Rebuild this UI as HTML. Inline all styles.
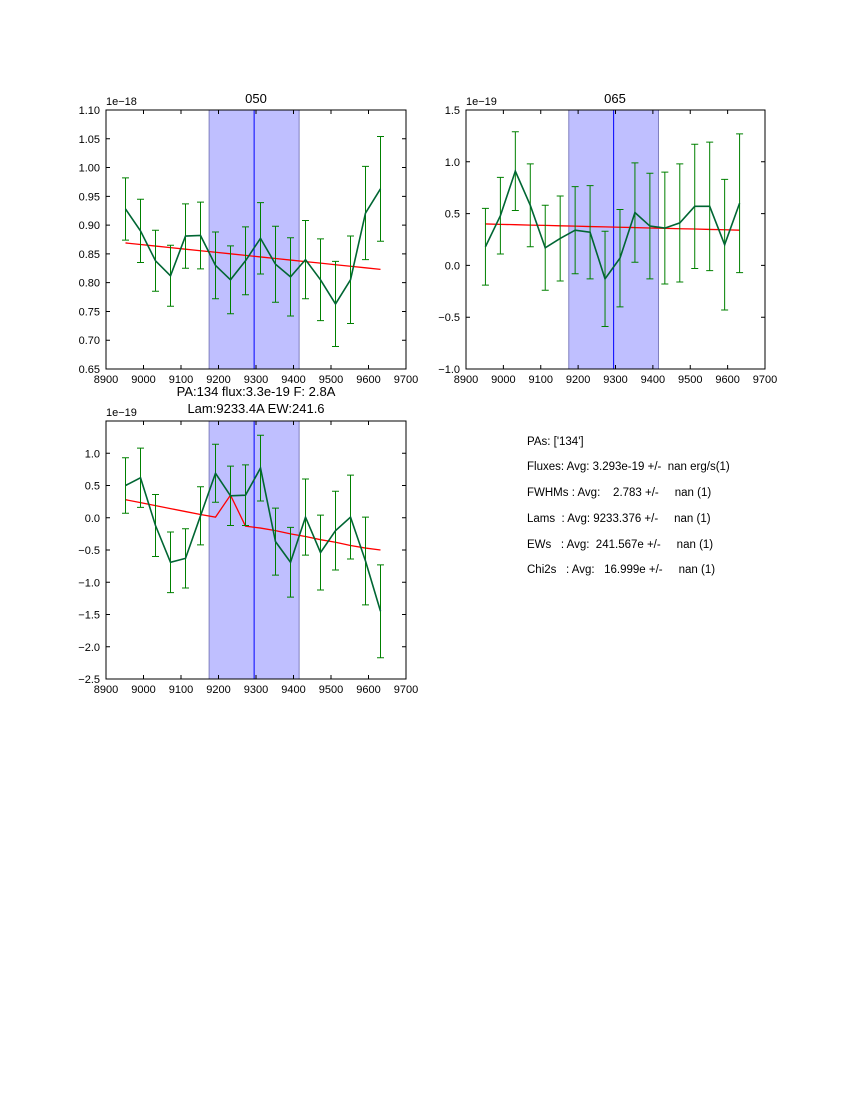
<!DOCTYPE html>
<html><head><meta charset="utf-8"><style>
body{margin:0;background:#fff;font-family:"Liberation Sans","DejaVu Sans",sans-serif}
svg{display:block}
text{font-family:"Liberation Sans","DejaVu Sans",sans-serif;fill:#000}
.pre{white-space:pre}
</style></head><body>
<svg id="svg" width="850" height="1100" viewBox="0 0 850 1100">
<text x="256" y="103" font-size="13" text-anchor="middle">050</text>
<text x="615" y="103" font-size="13" text-anchor="middle">065</text>
<text x="256" y="396" font-size="13" text-anchor="middle">PA:134 flux:3.3e-19 F: 2.8A</text>
<text x="256" y="413" font-size="13" text-anchor="middle">Lam:9233.4A EW:241.6</text>
<g font-size="11.5" class="pre">
<text x="527" y="445" xml:space="preserve">PAs: ['134']</text>
<text x="527" y="470" xml:space="preserve">Fluxes: Avg: 3.293e-19 +/-  nan erg/s(1)</text>
<text x="527" y="496" xml:space="preserve">FWHMs : Avg:    2.783 +/-     nan (1)</text>
<text x="527" y="522" xml:space="preserve">Lams  : Avg: 9233.376 +/-     nan (1)</text>
<text x="527" y="548" xml:space="preserve">EWs   : Avg:  241.567e +/-     nan (1)</text>
<text x="527" y="573" xml:space="preserve">Chi2s   : Avg:   16.999e +/-     nan (1)</text>
</g>
</svg>
<script>
const xs = [8952,8992,9032,9072,9112,9152,9192,9232,9272,9312,9352,9392,9432,9472,9512,9552,9592,9632];
const v1 = [0.928,0.890,0.838,0.812,0.881,0.882,0.830,0.805,0.838,0.877,0.832,0.810,0.840,0.805,0.763,0.805,0.921,0.963];
const e1 = [0.054,0.055,0.053,0.053,0.056,0.058,0.058,0.059,0.059,0.062,0.066,0.068,0.068,0.071,0.074,0.076,0.081,0.091];
const f1 = [0.869,0.8663,0.8636,0.8609,0.8582,0.8555,0.8528,0.8501,0.8474,0.8447,0.842,0.8393,0.8366,0.8339,0.8312,0.8285,0.8258,0.8231];
const v2 = [0.18,0.48,0.91,0.58,0.17,0.26,0.34,0.32,-0.13,0.07,0.51,0.38,0.36,0.41,0.57,0.57,0.20,0.60];
const e2 = [0.37,0.37,0.38,0.40,0.41,0.41,0.42,0.45,0.46,0.47,0.48,0.51,0.54,0.57,0.60,0.62,0.63,0.67];
const f2 = [0.40,0.396,0.393,0.389,0.386,0.382,0.379,0.375,0.372,0.368,0.365,0.361,0.358,0.354,0.351,0.347,0.344,0.34];
const v3 = [0.50,0.62,-0.12,-0.69,-0.63,0.03,0.69,0.34,0.35,0.77,-0.37,-0.69,0.01,-0.54,-0.20,0.01,-0.67,-1.45];
const e3 = [0.43,0.46,0.48,0.47,0.46,0.45,0.45,0.46,0.47,0.51,0.52,0.54,0.59,0.58,0.61,0.65,0.68,0.72];
const f3 = [0.28,0.234,0.188,0.142,0.096,0.05,0.01,0.35,-0.13,-0.16,-0.20,-0.25,-0.29,-0.34,-0.38,-0.43,-0.47,-0.50];
const xticks = [8900,9000,9100,9200,9300,9400,9500,9600,9700];
const band = [9175,9415];
const lineX = 9295;
const panels = [
 {name:'050',x0:106,y0:110,w:300,h:259,ymin:0.65,ymax:1.10,yt:[0.65,0.70,0.75,0.80,0.85,0.90,0.95,1.00,1.05,1.10],dec:2,exp:'1e\u221218',v:v1,e:e1,f:f1},
 {name:'065',x0:466,y0:110,w:299,h:259,ymin:-1.0,ymax:1.5,yt:[-1.0,-0.5,0.0,0.5,1.0,1.5],dec:1,exp:'1e\u221219',v:v2,e:e2,f:f2},
 {name:'combined',x0:106,y0:421,w:300,h:258,ymin:-2.5,ymax:1.5,yt:[-2.5,-2.0,-1.5,-1.0,-0.5,0.0,0.5,1.0],dec:1,exp:'1e\u221219',v:v3,e:e3,f:f3}
];
const svg=document.getElementById('svg');
const NS='http://www.w3.org/2000/svg';
function mk(t,a,p){const el=document.createElementNS(NS,t);for(const k in a)el.setAttribute(k,a[k]);(p||svg).appendChild(el);return el;}
panels.forEach(P=>{
 const g=mk('g',{});
 
 
 const sx=x=>P.x0+(x-8900)/800*P.w;
 const sy=y=>P.y0+(P.ymax-y)/(P.ymax-P.ymin)*P.h;
 const b=mk('rect',{x:sx(band[0]),y:P.y0,width:sx(band[1])-sx(band[0]),height:P.h,fill:'#bfbfff',stroke:'#7f7fbf','stroke-width':1},g);
 
 
 const cl=mk('line',{x1:sx(lineX),x2:sx(lineX),y1:P.y0,y2:P.y0+P.h,stroke:'#0000ff','stroke-width':1},g);
 
 
 const fit=mk('polyline',{points:xs.map((x,i)=>sx(x)+','+sy(P.f[i])).join(' '),fill:'none',stroke:'#ff0000','stroke-width':1.3},g);
 
 
 xs.forEach((x,i)=>{
  const X=sx(x),t=sy(P.v[i]+P.e[i]),bo=sy(P.v[i]-P.e[i]);
  const eb=mk('path',{d:`M${X},${t}V${bo}M${X-3.5},${t}H${X+3.5}M${X-3.5},${bo}H${X+3.5}`,stroke:'#008000','stroke-width':1,fill:'none'},g);
  
  
 });
 const dl=mk('polyline',{points:xs.map((x,i)=>sx(x)+','+sy(P.v[i])).join(' '),fill:'none',stroke:'#006633','stroke-width':1.6},g);
 
 
 const fr=mk('rect',{x:P.x0,y:P.y0,width:P.w,height:P.h,fill:'none',stroke:'#000','stroke-width':1},g);
 
 
 xticks.forEach(t=>{
  const X=sx(t);
  mk('path',{d:`M${X},${P.y0}v4M${X},${P.y0+P.h}v-4`,stroke:'#000'},g);
  const tx=mk('text',{x:X,y:P.y0+P.h+14,'font-size':11,'text-anchor':'middle'},g);tx.textContent=t;
  
  
 });
 P.yt.forEach(t=>{
  const Y=sy(t);
  mk('path',{d:`M${P.x0},${Y}h4M${P.x0+P.w},${Y}h-4`,stroke:'#000'},g);
  const tx=mk('text',{x:P.x0-6,y:Y+4,'font-size':11,'text-anchor':'end'},g);tx.textContent=(t<0?'\u2212':'')+Math.abs(t).toFixed(P.dec);
  
  
 });
 const ex=mk('text',{x:P.x0,y:P.y0-5,'font-size':11},g);ex.textContent=P.exp;
 
 
});
</script>
</body></html>
